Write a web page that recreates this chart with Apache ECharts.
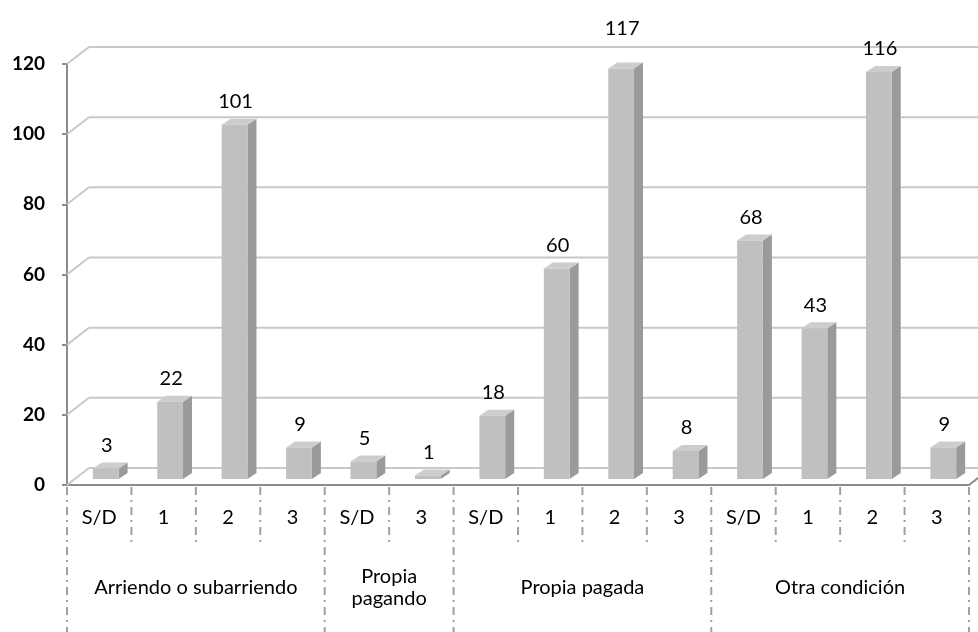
<!DOCTYPE html>
<html><head><meta charset="utf-8">
<script src="https://cdn.jsdelivr.net/npm/echarts@6/dist/echarts.min.js"></script>
<style>html,body{margin:0;padding:0;background:#fff}#c{width:978px;height:632px}</style>
</head><body><div id="c"></div>
<script>
// ---- data ----
const groups = ['Arriendo o subarriendo', 'Propia\npagando', 'Propia pagada', 'Otra condición'];
const subCategories = [['S/D','1','2','3'], ['S/D','3'], ['S/D','1','2','3'], ['S/D','1','2','3']];
const groupValues = [[3, 22, 101, 9], [5, 1], [18, 60, 117, 8], [68, 43, 116, 9]];
const yTicks = [0, 20, 40, 60, 80, 100, 120];

// ---- derived ----
const categories = [].concat(...subCategories);
const values = [].concat(...groupValues);
const N = categories.length;
const groupStart = [];
let acc = 0;
subCategories.forEach(s => { groupStart.push(acc); acc += s.length; });

// ---- style ----
const FONT = 'Lato';
const WALL_DX = 22, WALL_DY = 17;
const BAR_DX = 6.5, BAR_DY = 6, BAR_SIDE = 9, BAR_RISE = 6, BAR_W = 0.4;
const GRID_COLOR = '#c8c8c8', AXIS_COLOR = '#8c8c8c', SEP_COLOR = '#a0a0a0';
const labelRaise = { 'Propia pagada|2': 17 };

function renderWall(params, api) {
  const cs = params.coordSys;
  const v = api.value(1);
  const y = api.coord([0, v])[1];
  const ch = [
    { type: 'line', shape: { x1: cs.x, y1: y, x2: cs.x + WALL_DX, y2: y - WALL_DY }, style: { stroke: GRID_COLOR, lineWidth: 2 } },
    { type: 'line', shape: { x1: cs.x + WALL_DX, y1: y - WALL_DY, x2: cs.x + cs.width + WALL_DX + 20, y2: y - WALL_DY }, style: { stroke: GRID_COLOR, lineWidth: 2 } }
  ];
  if (v === 0) {
    ch.push({ type: 'line', shape: { x1: cs.x + cs.width, y1: y, x2: cs.x + cs.width + WALL_DX, y2: y - WALL_DY }, style: { stroke: AXIS_COLOR, lineWidth: 2 } });
  }
  return { type: 'group', children: ch };
}

function groupKey(i) {
  let g = 0;
  for (let k = 0; k < groupStart.length; k++) if (i >= groupStart[k]) g = k;
  return groups[g].replace('\n', ' ') + '|' + (i - groupStart[g]);
}

function renderBar(params, api) {
  const i = api.value(0), v = api.value(1);
  const base = api.coord([i, 0]);
  const top = api.coord([i, v]);
  const band = api.size([1, 0])[0];
  const w = band * BAR_W;
  const cx = base[0] + BAR_DX;
  const l = cx - w / 2, r = cx + w / 2;
  const yb = base[1] - BAR_DY, yt = top[1] - BAR_DY;
  const raise = labelRaise[groupKey(i)] || 0;
  return {
    type: 'group', children: [
      { type: 'polygon', shape: { points: [[r, yt], [r + BAR_SIDE, yt - BAR_RISE], [r + BAR_SIDE, yb - BAR_RISE], [r, yb]] }, style: { fill: '#9a9a9a' } },
      { type: 'polygon', shape: { points: [[l, yt], [l + BAR_SIDE, yt - BAR_RISE], [r + BAR_SIDE, yt - BAR_RISE], [r, yt]] }, style: { fill: '#cdcdcd' } },
      { type: 'rect', shape: { x: l, y: yt, width: w, height: yb - yt }, style: { fill: '#c0c0c0' } },
      { type: 'text', style: { text: String(v), x: cx + 1, y: yt - 23 - raise, align: 'center', verticalAlign: 'middle', fontFamily: FONT, fontSize: 20, fill: '#000' } }
    ]
  };
}

function renderSeparators(params, api) {
  const cs = params.coordSys;
  const bw = cs.width / N;
  const y0 = cs.y + cs.height + 2;
  const ch = [];
  const groupBounds = groupStart.concat([N]);
  for (let b = 0; b <= N; b++) {
    const isGroup = groupBounds.indexOf(b) >= 0;
    const x = cs.x + b * bw;
    ch.push({ type: 'line', shape: { x1: x, y1: y0, x2: x, y2: isGroup ? 640 : y0 + 58 }, style: { stroke: SEP_COLOR, lineWidth: 2, lineDash: [8, 5, 2, 5] } });
  }
  groups.forEach((g, k) => {
    const len = subCategories[k].length;
    const x = cs.x + (groupStart[k] + len / 2) * bw;
    ch.push({ type: 'text', style: { text: g, x: x, y: 588, align: 'center', verticalAlign: 'middle', fontFamily: FONT, fontSize: 20, lineHeight: 22, fill: '#000' } });
  });
  return { type: 'group', children: ch };
}

const chart = echarts.init(document.getElementById('c'), null, { renderer: 'canvas' });
chart.setOption({
  animation: false,
  backgroundColor: '#fff',
  grid: { left: 67, right: 9, top: 64, bottom: 147 },
  xAxis: {
    type: 'category', data: categories, boundaryGap: true,
    axisLine: { lineStyle: { color: AXIS_COLOR, width: 2 } },
    axisTick: { interval: 0, length: 5, lineStyle: { color: AXIS_COLOR, width: 2 } },
    axisLabel: { interval: 0, margin: 23, fontFamily: FONT, fontSize: 20, color: '#000' },
    splitLine: { show: false }
  },
  yAxis: {
    type: 'value', min: 0, max: 120, interval: 20,
    axisLine: { show: true, lineStyle: { color: AXIS_COLOR, width: 2 } },
    axisTick: { show: true, length: 5, lineStyle: { color: AXIS_COLOR, width: 2 } },
    axisLabel: { margin: 22, fontFamily: FONT, fontSize: 19, fontWeight: 'bold', color: '#000' },
    splitLine: { show: false }
  },
  series: [
    { type: 'custom', z: 1, silent: true, renderItem: renderWall, data: yTicks.map(v => [0, v]), encode: { x: 0, y: 1 } },
    { type: 'custom', z: 1, silent: true, renderItem: renderSeparators, data: [[0, 0]], encode: { x: 0, y: 1 } },
    { type: 'custom', z: 3, renderItem: renderBar, data: values.map((v, i) => [i, v]), encode: { x: 0, y: 1 } }
  ]
});
</script></body></html>
